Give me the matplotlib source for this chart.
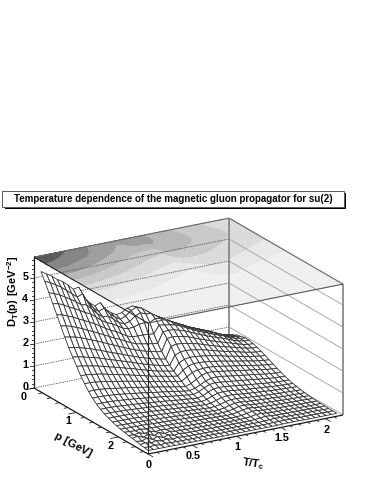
import numpy as np
import matplotlib
matplotlib.use("Agg")
import matplotlib.pyplot as plt
from matplotlib.patches import Polygon, Rectangle

plt.rcParams['font.family'] = ['Liberation Sans', 'DejaVu Sans']
plt.rcParams['mathtext.fontset'] = 'custom'
plt.rcParams['mathtext.bf'] = 'Liberation Sans:bold'
plt.rcParams['mathtext.rm'] = 'Liberation Sans:bold'

title = "Temperature dependence of the magnetic gluon propagator for su(2)"
t_ticks = [0, 0.5, 1, 1.5, 2]
t_tick_labels = ["0", "0.5", "1", "1.5", "2"]
p_ticks = [0, 1, 2]
z_ticks = [0, 1, 2, 3, 4, 5]

t_max = 2.2
p_max = 2.7
z_max = 5.95

# one row per p bin, one value per T bin
D = np.array([
    [5.35,5.2,5.05,4.85,4.7,4.5,4.25,4.3,3.8,3.5,3.3,3.4,3.05,2.85,2.7,2.75,2.9,2.95,2.85, 2.65,2.45,2.3,2.15,2.0,1.88,1.75,1.62,1.52,1.42,1.32,1.22,1.1,.98,.88,.8,.74],
    [5.0,4.9,4.75,4.6,4.4,4.2,4.0,4.1,3.65,3.35,3.15,3.25,2.95,2.75,2.6,2.7,2.9,3.0,2.9, 2.72,2.52,2.38,2.22,2.08,1.96,1.83,1.7,1.6,1.5,1.4,1.3,1.18,1.06,.97,.9,.86],
    [4.6,4.5,4.4,4.25,4.1,3.95,3.75,3.7,3.45,3.2,3.0,3.0,2.8,2.6,2.5,2.55,2.75,2.85,2.75, 2.72,2.55,2.42,2.28,2.14,2.02,1.9,1.77,1.66,1.56,1.46,1.36,1.25,1.14,1.04,.98,.95],
    [4.2,4.15,4.05,3.9,3.78,3.65,3.5,3.4,3.2,3.0,2.85,2.75,2.6,2.45,2.38,2.4,2.48,2.5,2.45, 2.6,2.55,2.42,2.3,2.16,2.04,1.92,1.8,1.7,1.6,1.5,1.4,1.3,1.18,1.09,1.04,1.0],
    [3.8,3.75,3.65,3.55,3.42,3.3,3.18,3.05,2.9,2.75,2.6,2.5,2.35,2.2,2.12,2.1,2.1,2.08,2.05, 2.4,2.36,2.32,2.26,2.16,2.04,1.92,1.8,1.7,1.6,1.5,1.41,1.32,1.2,1.12,1.06,1.04],
    [3.4,3.35,3.28,3.18,3.08,2.95,2.85,2.72,2.6,2.48,2.35,2.25,2.12,2.0,1.9,1.85,1.8,1.76,1.72, 2.2,2.22,2.2,2.12,2.05,1.94,1.83,1.73,1.63,1.54,1.45,1.37,1.28,1.18,1.1,1.05,1.03],
    [3.0,2.95,2.9,2.82,2.72,2.62,2.52,2.42,2.3,2.2,2.08,1.98,1.88,1.78,1.7,1.62,1.56,1.5,1.45, 2.0,2.03,2.0,1.95,1.88,1.78,1.69,1.6,1.51,1.43,1.35,1.28,1.2,1.12,1.05,1.0,.98],
    [2.62,2.58,2.52,2.45,2.38,2.28,2.2,2.1,2.0,1.92,1.82,1.73,1.64,1.55,1.47,1.4,1.33,1.27,1.22, 1.75,1.8,1.78,1.74,1.68,1.62,1.54,1.46,1.38,1.31,1.24,1.18,1.11,1.04,.98,.94,.92],
    [2.3,2.26,2.2,2.14,2.08,2.0,1.92,1.84,1.76,1.68,1.6,1.52,1.43,1.35,1.27,1.2,1.14,1.08,1.03, 1.45,1.55,1.57,1.54,1.5,1.46,1.39,1.32,1.25,1.19,1.13,1.07,1.01,.95,.9,.86,.84],
    [1.98,1.95,1.9,1.85,1.8,1.73,1.66,1.6,1.53,1.46,1.39,1.32,1.24,1.17,1.1,1.03,.98,.93,.88, 1.2,1.32,1.36,1.35,1.32,1.28,1.24,1.19,1.13,1.07,1.02,.97,.91,.86,.82,.78,.76],
    [1.66,1.65,1.62,1.58,1.54,1.48,1.42,1.37,1.31,1.25,1.19,1.13,1.07,1.0,.95,.9,.85,.8,.76, .98,1.12,1.18,1.18,1.16,1.13,1.09,1.05,1,.95,.9,.86,.81,.76,.72,.69,.67],
    [1.4,1.4,1.38,1.34,1.31,1.26,1.21,1.17,1.12,1.07,1.02,.97,.91,.86,.81,.76,.71,.67,.63, .78,.93,1.0,1.02,1.02,1.0,.97,.92,.88,.84,.8,.76,.71,.67,.63,.6,.58],
    [1.15,1.16,1.15,1.12,1.09,1.05,1.01,.98,.94,.9,.85,.81,.76,.72,.67,.62,.58,.53,.49, .58,.72,.86,.93,.92,.89,.85,.81,.77,.73,.69,.66,.62,.58,.54,.51,.49],
    [.95,.96,.95,.93,.91,.88,.85,.82,.78,.75,.71,.67,.63,.6,.56,.52,.48,.44,.41, .47,.58,.7,.78,.79,.77,.73,.69,.66,.62,.59,.56,.52,.48,.45,.43,.41],
    [.78,.79,.78,.77,.75,.73,.7,.68,.65,.62,.59,.56,.53,.5,.46,.43,.4,.37,.34, .42,.55,.65,.68,.66,.63,.6,.57,.54,.51,.48,.45,.42,.39,.37,.35,.34],
    [.65,.66,.65,.64,.62,.6,.58,.56,.54,.51,.49,.46,.44,.41,.38,.35,.33,.3,.28, .34,.46,.55,.57,.56,.53,.5,.47,.44,.41,.39,.36,.33,.31,.29,.28,.27],
    [.55,.55,.54,.53,.52,.5,.49,.47,.45,.43,.41,.39,.36,.34,.32,.29,.27,.25,.23, .28,.38,.46,.48,.47,.44,.41,.39,.36,.34,.32,.3,.27,.26,.24,.23,.22],
    [.46,.46,.45,.45,.44,.42,.41,.39,.38,.36,.34,.32,.3,.28,.26,.24,.22,.21,.19, .21,.29,.37,.4,.4,.37,.34,.32,.3,.28,.26,.24,.22,.21,.2,.19,.18],
    [.39,.38,.38,.37,.37,.35,.34,.33,.31,.3,.28,.27,.25,.23,.22,.2,.18,.17,.15, .16,.21,.29,.33,.33,.31,.28,.26,.24,.22,.21,.19,.18,.17,.16,.15,.14],
    [.33,.32,.31,.31,.3,.29,.28,.27,.26,.25,.23,.22,.2,.19,.18,.16,.15,.14,.12, .12,.15,.22,.27,.28,.25,.23,.21,.2,.18,.17,.15,.14,.13,.13,.12,.11],
    [.28,.26,.27,.25,.26,.24,.23,.22,.21,.2,.19,.18,.17,.16,.14,.13,.12,.11,.1, .1,.11,.16,.23,.24,.21,.18,.17,.16,.15,.14,.12,.11,.1,.1,.09,.08],
    [.24,.22,.21,.23,.19,.2,.18,.18,.17,.16,.15,.14,.13,.12,.11,.11,.1,.09,.08, .07,.08,.12,.17,.21,.18,.15,.14,.13,.12,.11,.1,.09,.08,.08,.07,.06],
    [.2,.17,.22,.14,.2,.12,.17,.12,.14,.12,.12,.11,.1,.09,.09,.08,.08,.07,.06, .06,.06,.08,.12,.17,.16,.12,.11,.1,.09,.08,.08,.07,.06,.06,.05,.05],
    [.17,.22,.12,.21,.1,.19,.09,.15,.1,.1,.09,.08,.08,.07,.07,.06,.06,.05,.05, .05,.05,.06,.08,.13,.13,.1,.08,.08,.07,.06,.06,.05,.05,.04,.04,.04],
    [.14,.1,.19,.08,.17,.07,.14,.07,.11,.07,.07,.06,.06,.05,.05,.05,.04,.04,.04, .04,.04,.04,.05,.08,.1,.08,.06,.06,.05,.05,.04,.04,.04,.03,.03,.03],
    [.1,.13,.07,.13,.06,.11,.05,.09,.05,.05,.05,.04,.04,.04,.04,.03,.03,.03,.03, .03,.03,.03,.03,.04,.05,.06,.06,.05,.04,.04,.03,.03,.03,.03,.02,.02],
    [.07,.05,.08,.04,.07,.04,.05,.03,.04,.03,.03,.03,.03,.03,.02,.02,.02,.02,.02, .02,.02,.02,.02,.02,.03,.03,.04,.03,.03,.02,.02,.02,.02,.02,.02,.02],
    [.04,.03,.03,.03,.03,.02,.02,.02,.02,.02,.02,.02,.01,.01,.01,.01,.01,.01,.01, .01,.01,.01,.01,.01,.01,.02,.02,.02,.02,.01,.01,.01,.01,.01,.01,.01],
])
T = np.linspace(0.04, 2.167, D.shape[1])
P = np.linspace(0.08, 2.62, D.shape[0])

contour_levels = [0, 0.4, 0.8, 1.3, 1.9, 2.6, 3.4, 4.4, 6]
contour_grays = ['0.94', '0.91', '0.86', '0.79', '0.72', '0.62', '0.52', '0.36']

# oblique view of the box, in pixels of the page
def proj(t, p, z):
    t, p, z = np.asarray(t, float), np.asarray(p, float), np.asarray(z, float)
    x = 34 + t * 195 / t_max + p * 114 / p_max
    y = 388 - t * 39 / t_max + p * 66 / p_max - z * 22
    return x, y

def edge(ax, a, b, **kw):
    xa, ya = proj(*a)
    xb, yb = proj(*b)
    ax.plot([xa, xb], [ya, yb], solid_capstyle='butt', **kw)

fig = plt.figure(figsize=(3.74, 4.84), dpi=100)
ax = fig.add_axes([0, 0, 1, 1])
ax.set_xlim(0, 374)
ax.set_ylim(484, 0)
ax.axis('off')

# title box
ax.add_patch(Rectangle((5, 193), 341.5, 15.5, fc='black', ec='none'))
ax.add_patch(Rectangle((2.5, 190.5), 342, 16, fc='white', ec='0.35', lw=0.7))
ax.text(173.5, 199, title, ha='center', va='center', fontsize=7.0, fontweight='bold')

# top plane with the projected contours
corners = [(0, 0), (t_max, 0), (t_max, p_max), (0, p_max)]
xy = [tuple(float(v) for v in proj(a, b, z_max)) for a, b in corners]
ax.add_patch(Polygon(xy, fc='0.94', ec='none', zorder=1))
tg, pg = np.meshgrid(np.linspace(0, t_max, D.shape[1]), np.linspace(0, p_max, D.shape[0]))
xc, yc = proj(tg, pg, z_max)
ax.contourf(xc, yc, D, levels=contour_levels, colors=contour_grays, zorder=2)

# walls
for z in z_ticks:
    edge(ax, (0, 0, z), (t_max, 0, z), color='0.3', lw=0.6, ls=(0, (1.5, 1.2)), zorder=3)
    edge(ax, (t_max, 0, z), (t_max, p_max, z), color='0.62', lw=0.6, zorder=3)
edge(ax, (t_max, 0, 0), (t_max, 0, z_max), color='0.5', lw=1.2, zorder=3)
edge(ax, (t_max, p_max, 0), (t_max, p_max, z_max), color='0.5', lw=1.2, zorder=3)
edge(ax, (0, 0, z_max), (t_max, 0, z_max), color='0.4', lw=0.8, zorder=3)
edge(ax, (t_max, 0, z_max), (t_max, p_max, z_max), color='0.4', lw=0.8, zorder=3)

# surface, painted from the far corner to the near one
XS, YS = proj(*np.meshgrid(T, P), D)
zo = 4
for j in range(len(P) - 1):
    for i in range(len(T) - 2, -1, -1):
        quad = [(XS[j, i], YS[j, i]), (XS[j, i + 1], YS[j, i + 1]),
                (XS[j + 1, i + 1], YS[j + 1, i + 1]), (XS[j + 1, i], YS[j + 1, i])]
        ax.add_patch(Polygon(quad, fc='white', ec='0.2', lw=0.6, zorder=zo))

# front edges of the box
zo = 5
edge(ax, (0, 0, z_max), (0, p_max, z_max), color='0.15', lw=0.8, zorder=zo)
edge(ax, (0, p_max, z_max), (t_max, p_max, z_max), color='0.35', lw=0.8, zorder=zo)
edge(ax, (0, p_max, 0), (0, p_max, z_max), color='0.15', lw=0.8, zorder=zo)

# axes
edge(ax, (0, 0, 0), (0, 0, z_max), color='0.1', lw=0.9, zorder=zo)
edge(ax, (0, 0, 0), (0, p_max, 0), color='0.1', lw=0.9, zorder=zo)
edge(ax, (0, p_max, 0), (t_max, p_max, 0), color='0.1', lw=0.9, zorder=zo)

for z in np.arange(0, z_max, 0.2):
    major = abs(z - round(z)) < 1e-6
    x0, y0 = proj(0, 0, z)
    ax.plot([x0 - (4 if major else 2), x0], [y0, y0], color='0.1', lw=0.6, zorder=zo)
for t in np.arange(0, t_max, 0.1):
    major = abs(t * 2 - round(t * 2)) < 1e-6
    s = 0.12 if major else 0.06
    edge(ax, (t, p_max, 0), (t, p_max + s, 0), color='0.1', lw=0.6, zorder=zo)
for p in np.arange(0, p_max, 0.2):
    major = abs(p - round(p)) < 1e-6
    s = 0.09 if major else 0.045
    edge(ax, (0, p, 0), (-s, p, 0), color='0.1', lw=0.6, zorder=zo)

fs = 7.8
for z in z_ticks:
    x0, y0 = proj(0, 0, z)
    ax.text(x0 - 5.5, y0 - 0.5, str(z), ha='right', va='center', fontsize=fs, fontweight='bold')
ax.text(24, 397.5, "0", ha='center', va='center', fontsize=fs, fontweight='bold')
for p in p_ticks[1:]:
    x0, y0 = proj(0, p, 0)
    ax.text(x0 - 8, y0 + 9, str(p), ha='center', va='center', fontsize=fs, fontweight='bold')
for t, lab in zip(t_ticks, t_tick_labels):
    x0, y0 = proj(t, p_max, 0)
    ax.text(x0 + 1, y0 + 11, lab, ha='center', va='center', fontsize=fs, fontweight='bold')

ax.text(13, 291, r"$\mathbf{D_T(p)\ [GeV^{-2}]}$", rotation=90, ha='center', va='center', fontsize=8)
ax.text(73, 445, r"$\mathbf{p\ [GeV]}$", rotation=-28, ha='center', va='center', fontsize=8.2)
ax.text(253, 464, r"$\mathbf{T/T_c}$", rotation=-8, ha='center', va='center', fontsize=8)

fig.savefig("out.png", dpi=100)
